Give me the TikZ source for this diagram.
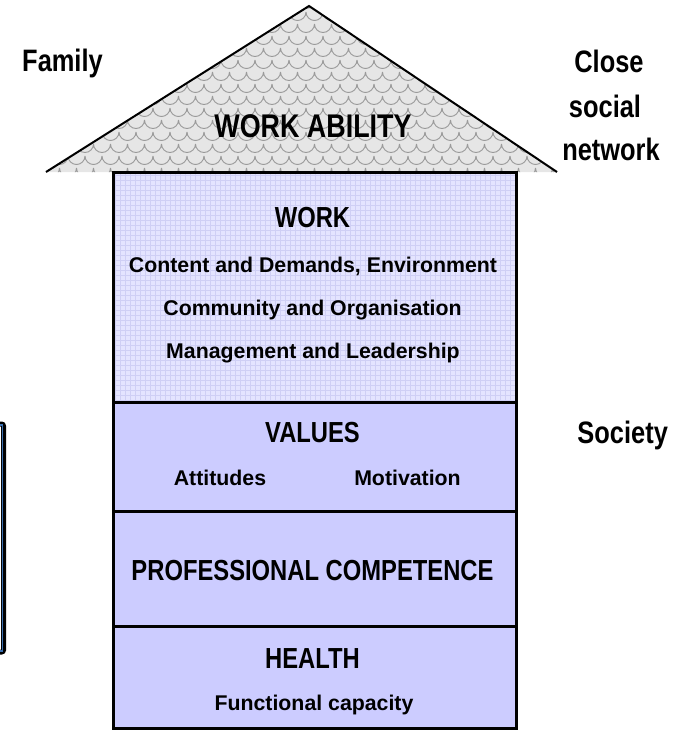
\documentclass[tikz,border=0pt]{standalone}
\usepackage{fontspec}
\setmainfont{Liberation Sans}
\newfontfamily\titlefont[FakeStretch=0.82]{Liberation Sans}
\definecolor{roofbg}{HTML}{E6E6E6}
\definecolor{scalecol}{HTML}{9A9A9A}
\definecolor{secfill}{HTML}{CCCCFF}
\definecolor{workfill}{HTML}{E4E4FF}
\definecolor{workgrid}{HTML}{CFCFF5}
\definecolor{boxblue}{HTML}{3A6FB0}
\begin{document}
\begin{tikzpicture}[x=1pt,y=-1pt,
  titletext/.style={font=\titlefont\bfseries\fontsize{29}{32}\selectfont, anchor=base, inner sep=0pt},
  subtext/.style={font=\bfseries\fontsize{21.3}{24}\selectfont, anchor=base, inner sep=0pt},
  sidetext/.style={font=\titlefont\bfseries\fontsize{31}{34}\selectfont, anchor=base, inner sep=0pt},
  rooftext/.style={font=\titlefont\bfseries\fontsize{32.8}{36}\selectfont, anchor=base, inner sep=0pt},
  outline/.style={draw=black, line width=3pt},
]
\useasboundingbox (0,0) rectangle (674,732);
\clip (0,0) rectangle (674,732);

% roof
\coordinate (roofL) at (46,172);
\coordinate (apex) at (309,6);
\coordinate (roofR) at (557,172);
\begin{scope}
  \clip (roofL) -- (apex) -- (roofR) -- cycle;
  \fill[roofbg] (0,0) rectangle (674,180);
  \foreach \j in {0,...,15} {
    \pgfmathsetmacro{\off}{mod(\j,2)*8.5}
    \draw[scalecol, line width=0.9pt]
      \foreach \i in {0,...,38} { ({\i*17+\off-8.5},{\j*12}) arc[start angle=180, end angle=0, radius=8.5] };
  }
\end{scope}
\draw[line width=2pt, line join=miter] (roofL) -- (apex) -- (roofR);

% work section with grid
\begin{scope}
  \clip (113,172) rectangle (516,402);
  \fill[workfill] (113,172) rectangle (516,402);
  \foreach \gx in {0,...,82} { \draw[workgrid, line width=0.5pt] ({110+\gx*5},170) -- ({110+\gx*5},405); }
  \foreach \gy in {0,...,47} { \draw[workgrid, line width=0.5pt] (110,{170+\gy*5}) -- (520,{170+\gy*5}); }
\end{scope}
\fill[secfill] (113,402) rectangle (516,728);

% body outline and dividers
\draw[outline] (113,172) rectangle (516,728);
\draw[outline] (113,402) -- (516,402);
\draw[outline] (113,511) -- (516,511);
\draw[outline] (113,626) -- (516,626);

% left partial box
\draw[line width=5pt, rounded corners=2pt] (-20,424) rectangle (3.5,652);
\draw[boxblue, line width=1.2pt] (-20,425) rectangle (2.5,651);

% texts
\node[rooftext] (wa) at (313,137) {WORK ABILITY};
\node[titletext] (work) at (312.5,227) {WORK};
\node[subtext] (w1) at (313,272) {Content and Demands, Environment};
\node[subtext] (w2) at (312.5,315) {Community and Organisation};
\node[subtext] (w3) at (313,358) {Management and Leadership};
\node[titletext] (values) at (312.5,442) {VALUES};
\node[subtext] (att) at (220,485) {Attitudes};
\node[subtext] (mot) at (407.5,485) {Motivation};
\node[titletext] (prof) at (312.5,580) {PROFESSIONAL COMPETENCE};
\node[titletext] (health) at (312.5,668) {HEALTH};
\node[subtext] (func) at (314,710) {Functional capacity};

\node[sidetext] (family) at (62.5,71) {Family};
\node[sidetext] (close) at (609,72) {Close};
\node[sidetext] (social) at (605,117) {social};
\node[sidetext] (network) at (611,160) {network};
\node[sidetext] (society) at (622.7,443) {Society};
\end{tikzpicture}
\end{document}
